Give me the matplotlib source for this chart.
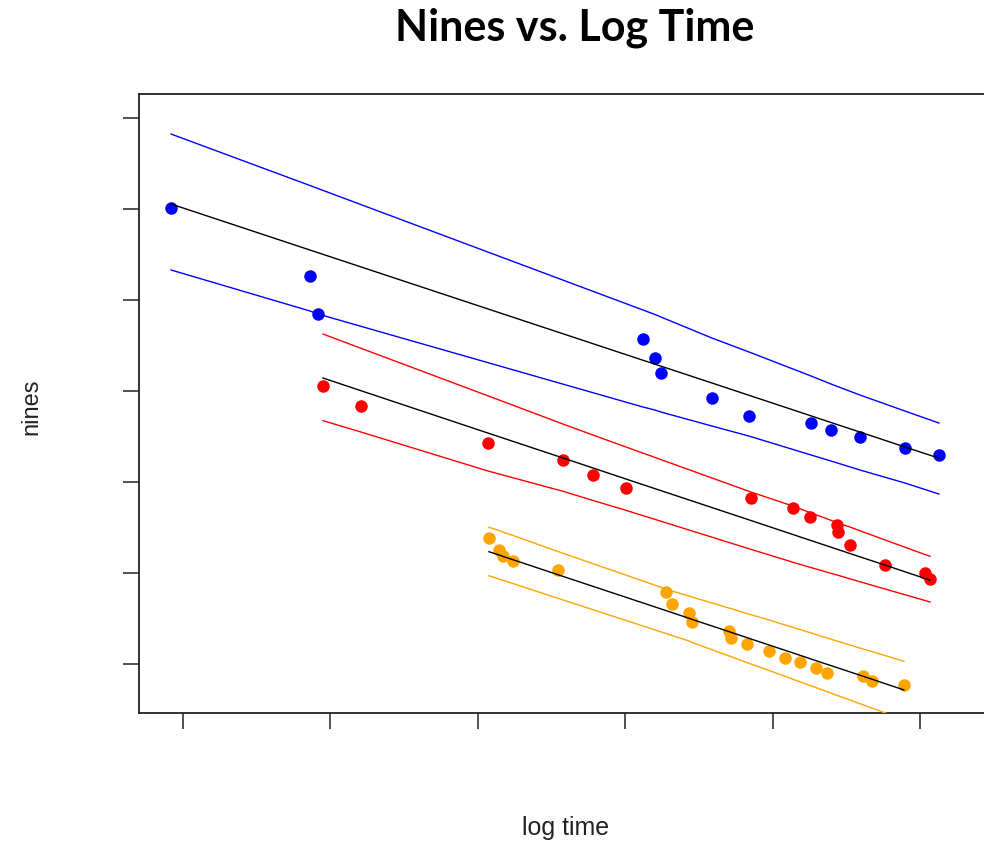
import matplotlib
matplotlib.use("Agg")
import matplotlib.pyplot as plt

# blue group
blue_x = [-0.081, 0.862, 0.916, 3.121, 3.202, 3.243, 3.589, 3.840, 4.261, 4.396, 4.593, 4.898, 5.129]
blue_y = [6.011, 5.264, 4.846, 4.571, 4.363, 4.198, 3.926, 3.729, 3.648, 3.571, 3.498, 3.374, 3.297]
blue_fit = [6.055, 5.549, 5.520, 4.338, 4.295, 4.273, 4.088, 3.953, 3.727, 3.654, 3.549, 3.385, 3.262]
blue_hi = [6.824, 6.258, 6.225, 4.890, 4.841, 4.813, 4.582, 4.429, 4.165, 4.077, 3.956, 3.780, 3.648]
blue_lo = [5.330, 4.879, 4.846, 3.824, 3.791, 3.769, 3.615, 3.505, 3.297, 3.231, 3.132, 2.989, 2.868]

# red group
red_x = [0.950, 1.208, 2.069, 2.578, 2.782, 3.005, 3.853, 4.138, 4.254, 4.437, 4.444, 4.525, 4.763, 5.034, 5.068]
red_y = [4.055, 3.835, 3.429, 3.242, 3.077, 2.934, 2.824, 2.714, 2.615, 2.527, 2.451, 2.308, 2.088, 2.000, 1.934]
red_fit = [4.143, 4.003, 3.538, 3.264, 3.154, 3.033, 2.577, 2.423, 2.360, 2.262, 2.258, 2.214, 2.087, 1.940, 1.922]
red_hi = [4.626, 4.469, 3.947, 3.637, 3.516, 3.385, 2.890, 2.736, 2.664, 2.555, 2.549, 2.505, 2.363, 2.203, 2.184]
red_lo = [3.674, 3.549, 3.121, 2.898, 2.797, 2.689, 2.260, 2.118, 2.063, 1.978, 1.975, 1.936, 1.824, 1.698, 1.681]

# orange group
orange_x = [2.076, 2.144, 2.171, 2.239, 2.544, 3.277, 3.318, 3.433, 3.453, 3.704,
            3.718, 3.826, 3.976, 4.084, 4.186, 4.294, 4.369, 4.613, 4.674, 4.891]
orange_y = [2.385, 2.253, 2.187, 2.132, 2.033, 1.791, 1.659, 1.560, 1.462, 1.363,
            1.286, 1.220, 1.143, 1.066, 1.022, 0.956, 0.901, 0.868, 0.813, 0.769]
orange_fit = [2.234, 2.198, 2.182, 2.146, 1.981, 1.587, 1.565, 1.502, 1.491, 1.356,
              1.348, 1.290, 1.209, 1.151, 1.096, 1.037, 0.997, 0.866, 0.833, 0.715]
orange_hi = [2.502, 2.467, 2.451, 2.412, 2.236, 1.824, 1.802, 1.747, 1.736, 1.615,
             1.609, 1.555, 1.484, 1.429, 1.379, 1.324, 1.286, 1.165, 1.137, 1.030]
orange_lo = [1.970, 1.934, 1.920, 1.884, 1.722, 1.335, 1.313, 1.253, 1.237, 1.089,
             1.081, 1.016, 0.929, 0.865, 0.804, 0.741, 0.696, 0.552, 0.516, 0.387]

x_ticks = [0, 1, 2, 3, 4, 5]
y_ticks = [1, 2, 3, 4, 5, 6, 7]

groups = [
    (blue_x, blue_y, blue_fit, blue_hi, blue_lo, "#0000FF"),
    (red_x, red_y, red_fit, red_hi, red_lo, "#FF0000"),
    (orange_x, orange_y, orange_fit, orange_hi, orange_lo, "#FFA500"),
]

fig = plt.figure(figsize=(9.84, 8.45), dpi=100)
ax = fig.add_axes([139 / 984, 1 - 714 / 845, (1005 - 139) / 984, (714 - 95) / 845])

for gx, gy, fit, hi, lo, col in groups:
    ax.plot(gx, gy, "o", color=col, ms=9, mec="none", zorder=2)
    ax.plot(gx, hi, color=col, lw=1.0, zorder=3)
    ax.plot(gx, lo, color=col, lw=1.0, zorder=3)
    ax.plot(gx, fit, color="black", lw=1.0, zorder=3)

ax.set_xlim(-0.2985, 5.577)
ax.set_ylim(0.4615, 7.264)
ax.set_xticks(x_ticks)
ax.set_yticks(y_ticks)
ax.set_xticklabels([])
ax.set_yticklabels([])
ax.tick_params(direction="out", length=11.5, width=1.2, color="#333333")
for s in ax.spines.values():
    s.set_linewidth(1.3)
    s.set_color("#222222")

fig.text(575 / 984, 1 - 28 / 845, "Nines vs. Log Time", ha="center", va="center",
         fontsize=31, fontweight="bold", family="Lato")
fig.text(566 / 984, 1 - 828 / 845, "log time", ha="center", va="center",
         fontsize=18, family="Liberation Sans", color="#222222")
fig.text(31 / 984, 1 - 407 / 845, "nines", ha="center", va="center", rotation=90,
         fontsize=17, family="Liberation Sans", color="#222222")

fig.savefig("out.png", dpi=100)
